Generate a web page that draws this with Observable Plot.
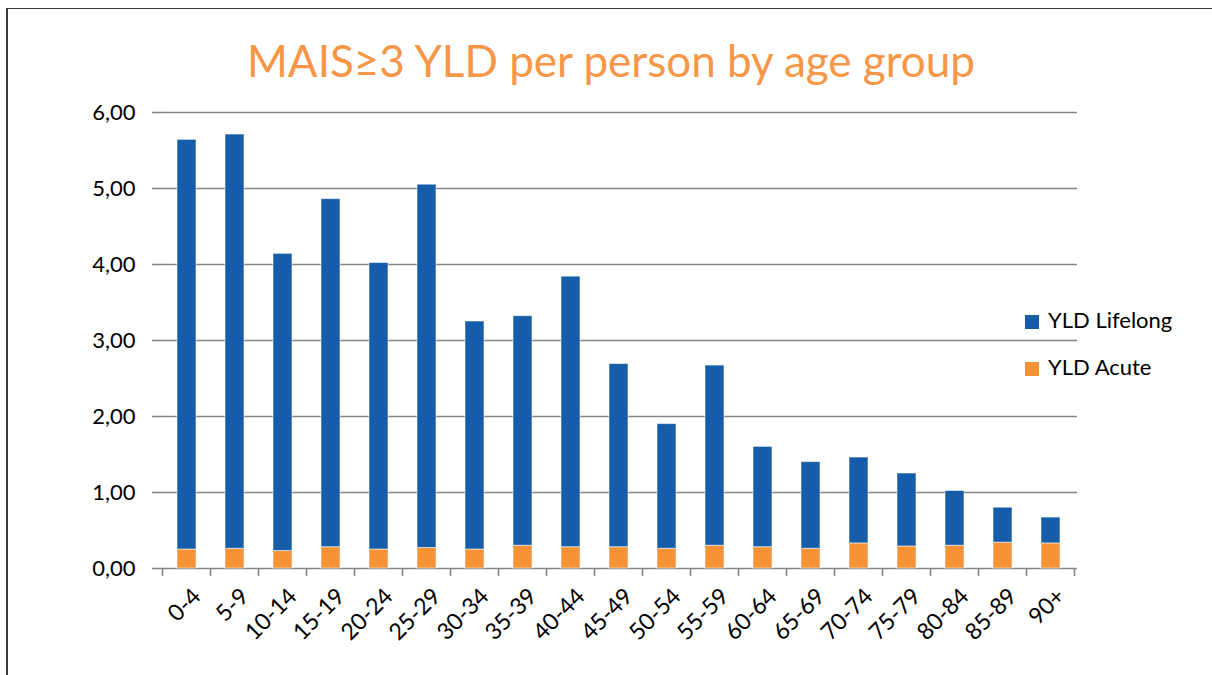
<!DOCTYPE html>
<html><head><meta charset="utf-8">
<script src="https://cdn.jsdelivr.net/npm/d3@7"></script>
<script src="https://cdn.jsdelivr.net/npm/@observablehq/plot@0.6"></script>
<style>
body{margin:0;background:#fff;}
#wrap{position:relative;width:1212px;height:675px;overflow:hidden;font-family:Lato,"Open Sans",sans-serif;background:#fff;}
#bl{position:absolute;left:6px;top:8px;width:2px;height:667px;background:#3a3a3a;z-index:2;}
#bt{position:absolute;left:6px;top:8px;right:0;height:1px;background:#3a3a3a;z-index:2;}
#title{height:82px;position:relative;}
#title span{position:absolute;left:0;width:1222px;text-align:center;top:38px;font-size:44px;line-height:1;color:#F79646;white-space:nowrap;}
#chart svg{display:block;}
.leg{position:absolute;left:1025px;font-size:22px;line-height:1;color:#000;white-space:nowrap;}
.leg i{display:inline-block;width:14px;height:14px;margin-right:9px;vertical-align:-1px;}
</style></head>
<body>
<div id="wrap">
  <div id="bl"></div><div id="bt"></div>
  <div id="title"><span>MAIS≥3 YLD per person by age group</span></div>
  <div id="chart"></div>
  <div class="leg" style="top:309px"><i style="background:#155DA9"></i>YLD Lifelong</div>
  <div class="leg" style="top:356px"><i style="background:#F79136"></i>YLD Acute</div>
</div>
<script>
const ageGroups = ["0-4","5-9","10-14","15-19","20-24","25-29","30-34","35-39","40-44","45-49","50-54","55-59","60-64","65-69","70-74","75-79","80-84","85-89","90+"];
const yldAcute    = [0.25,0.26,0.23,0.28,0.25,0.27,0.25,0.30,0.28,0.28,0.26,0.30,0.28,0.26,0.33,0.29,0.30,0.34,0.33];
const yldLifelong = [5.39,5.45,3.91,4.58,3.77,4.78,3.00,3.02,3.56,2.41,1.64,2.37,1.32,1.14,1.13,0.96,0.72,0.46,0.34];
const seriesNames = ["YLD Acute","YLD Lifelong"];
const seriesColors = ["#F79136","#155DA9"];
const yTicks = [0,1,2,3,4,5,6];

const rows = [];
ageGroups.forEach((g,i) => {
  rows.push({age:g, series:seriesNames[0], value:yldAcute[i]});
  rows.push({age:g, series:seriesNames[1], value:yldLifelong[i]});
});
const fmt = d => d3.format(".2f")(d).replace(".", ",");

const chart = Plot.plot({
  width: 1212,
  height: 593,
  marginLeft: 161,
  marginRight: 135,
  marginTop: 30,
  marginBottom: 107,
  style: {fontFamily: "Lato, 'Open Sans', sans-serif", background: "#fff", overflow: "visible"},
  x: {domain: ageGroups, paddingInner: 0.6, paddingOuter: 0.3, label: null},
  y: {domain: [0, 6], label: null},
  color: {domain: seriesNames, range: seriesColors},
  marks: [
    Plot.gridY(yTicks, {stroke: "#868686", strokeOpacity: 1, strokeWidth: 1.6}),
    Plot.barY(rows, {x: "age", y: "value", fill: "series", stroke: "#ffffff", strokeOpacity: 0.55, strokeWidth: 1}),
    Plot.axisY(yTicks, {tickFormat: fmt, tickSize: 9, tickPadding: 17, stroke: "#868686", strokeWidth: 1.6, line: true, fontSize: 22, fill: "#000", label: null}),
    Plot.axisX({tickSize: 0, tickRotate: -45, tickPadding: 24, dx: 10, fontSize: 23, fill: "#000", stroke: "#868686", strokeWidth: 1.6, line: true, label: null})
  ]
});

// tick marks at band boundaries, from the library's x scale
const sx = chart.scale("x");
const sy = chart.scale("y");
const step = sx.step;
const y0 = sy.apply(0);
const g = d3.select(chart).append("g").attr("stroke", "#868686").attr("stroke-width", 1.6);
const bounds = ageGroups.map(c => sx.apply(c) + sx.bandwidth / 2 - step / 2);
bounds.push(sx.apply(ageGroups[ageGroups.length - 1]) + sx.bandwidth / 2 + step / 2);
bounds.forEach(x => g.append("line").attr("x1", x).attr("x2", x).attr("y1", y0).attr("y2", y0 + 8));

document.getElementById("chart").appendChild(chart);
</script>
</body></html>
